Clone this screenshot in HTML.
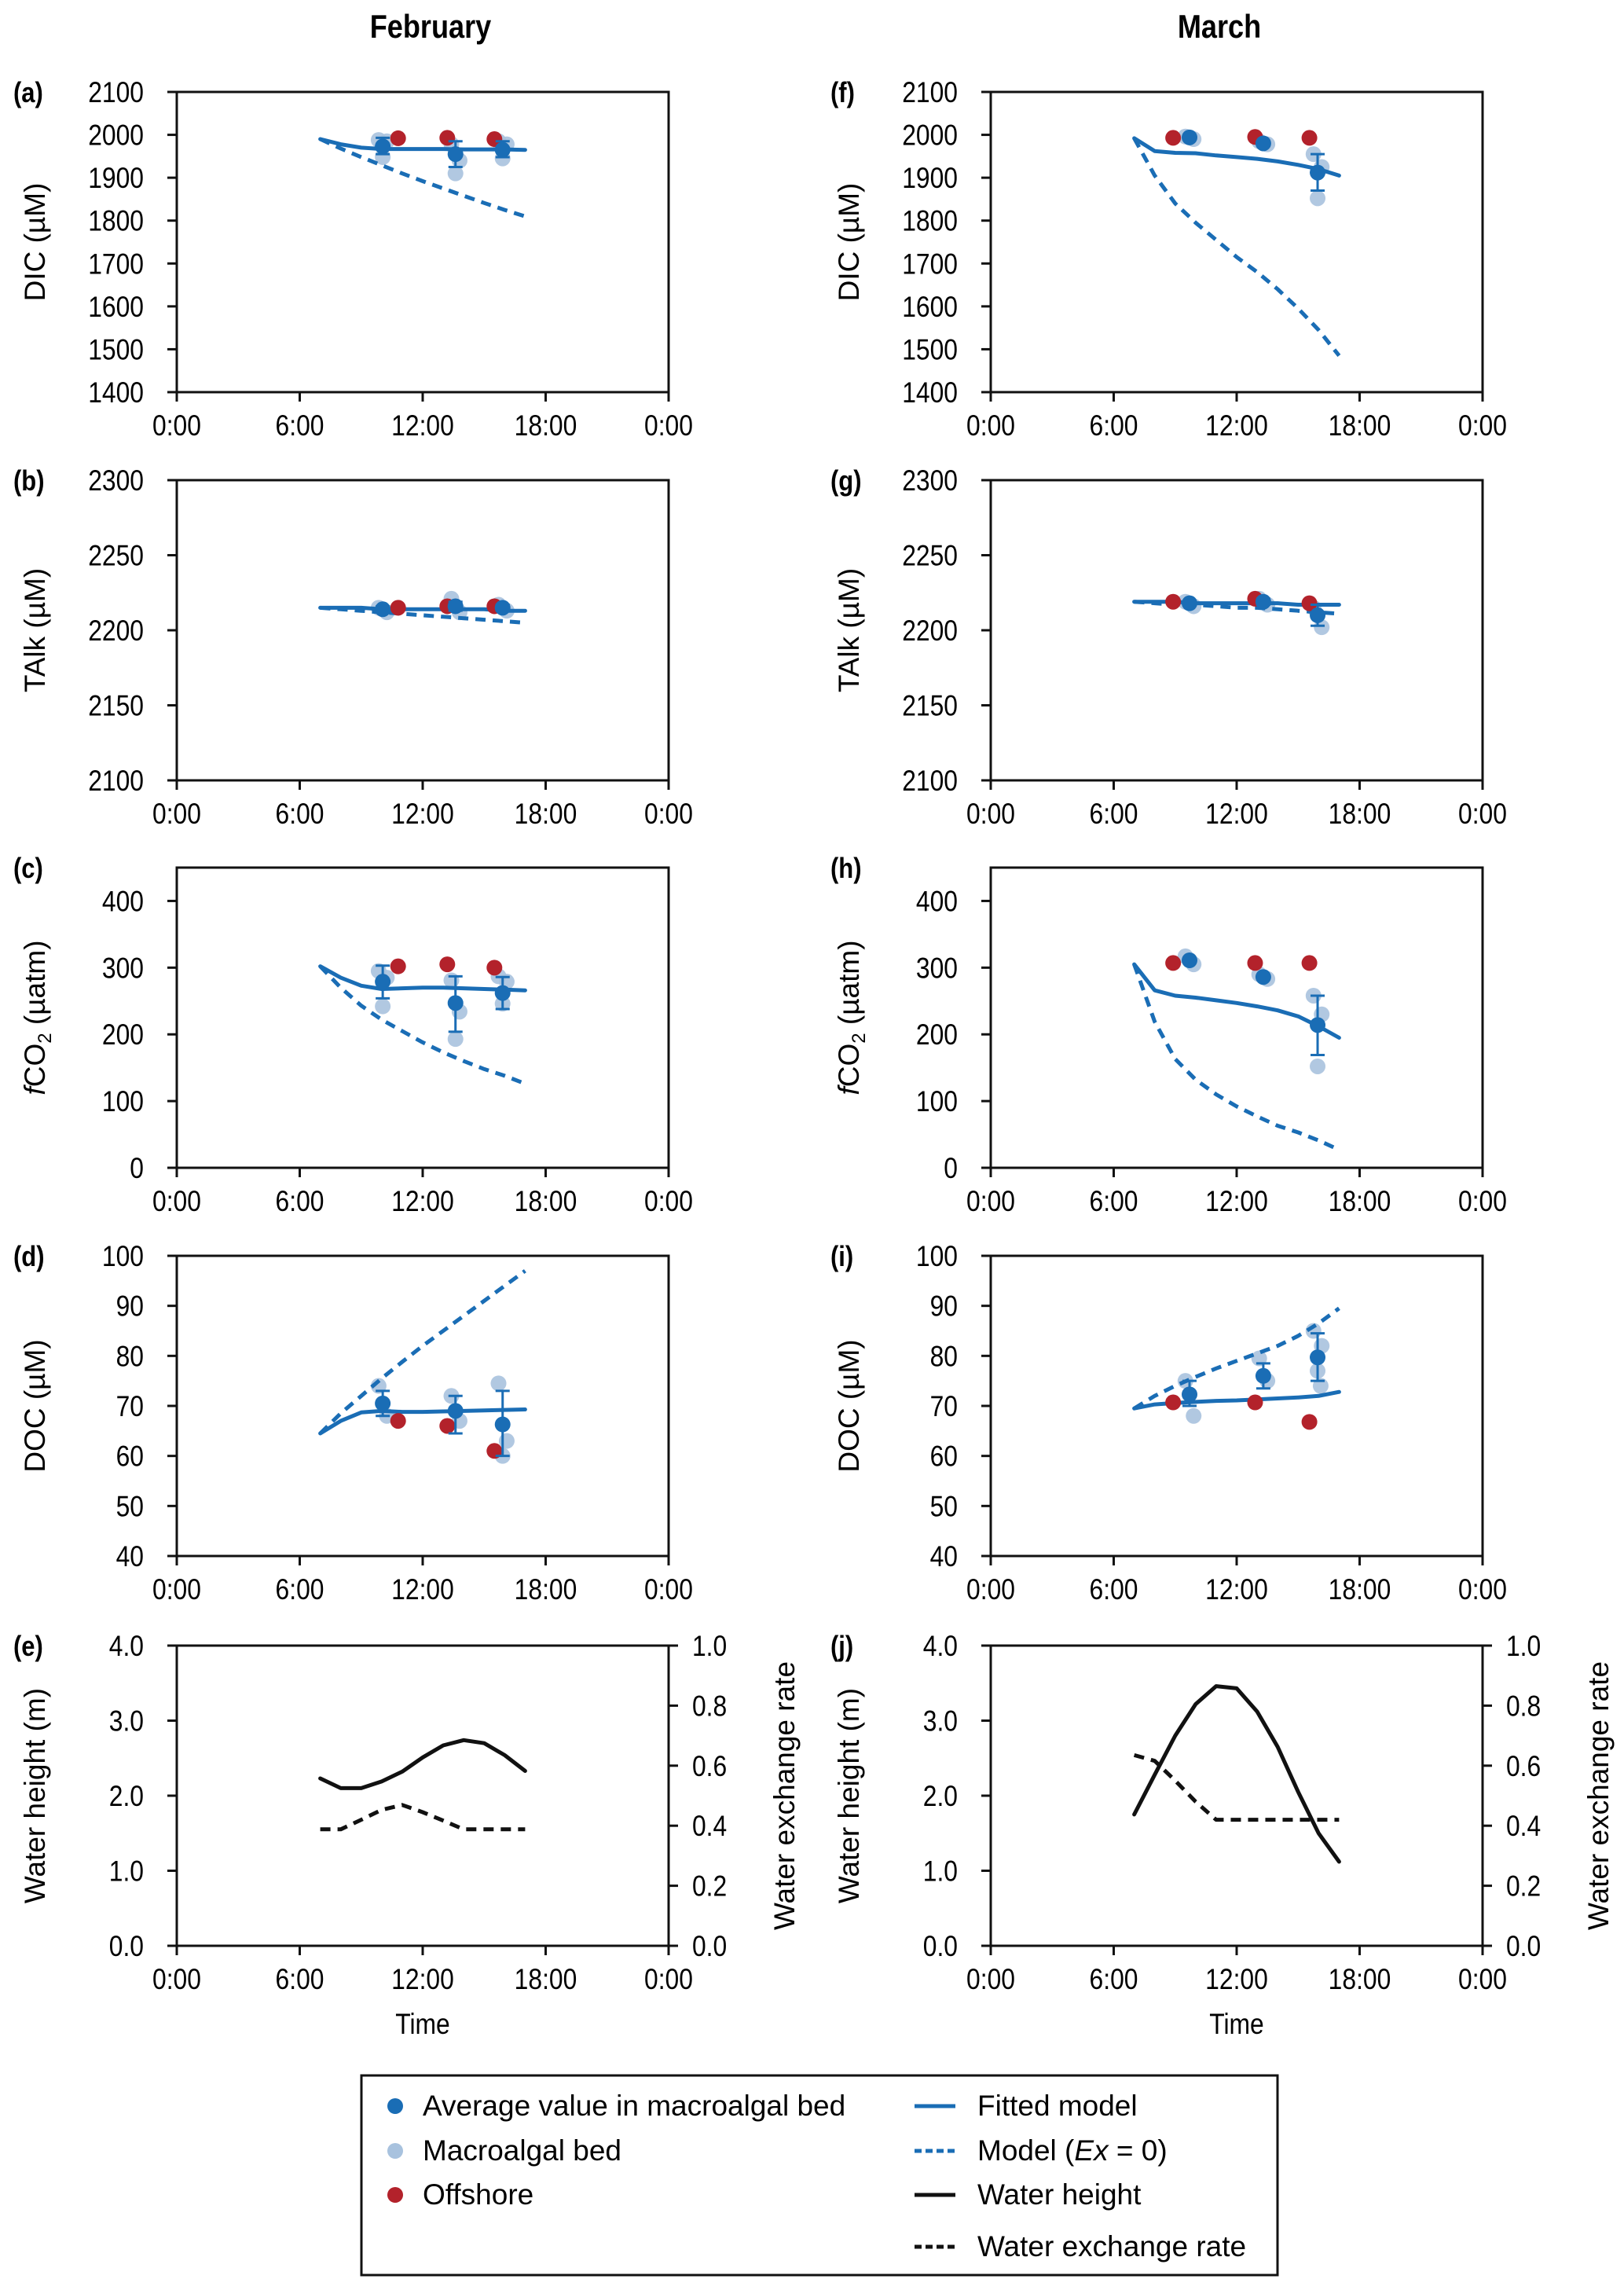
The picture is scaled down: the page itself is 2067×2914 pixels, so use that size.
<!DOCTYPE html>
<html><head><meta charset="utf-8">
<style>
html,body{margin:0;padding:0;background:#fff;}
svg{display:block;font-family:"Liberation Sans",Arial,sans-serif;}
</style></head>
<body>
<svg id="fig" width="2067" height="2914" viewBox="0 0 2067 2914" xmlns="http://www.w3.org/2000/svg">
<text class="nar" x="548" y="48" font-size="42" font-weight="bold" text-anchor="middle">February</text>
<text class="nar" x="1552" y="48" font-size="42" font-weight="bold" text-anchor="middle">March</text>
<g id="panels"></g>
<g>
<rect x="460" y="2641" width="1166" height="254" fill="#fff" stroke="#111" stroke-width="3"/>
<circle cx="503" cy="2680" r="10" fill="#1a6db5"/>
<text x="538" y="2692" font-size="37">Average value in macroalgal bed</text>
<circle cx="503" cy="2737" r="10" fill="#a8c2de"/>
<text x="538" y="2749" font-size="37">Macroalgal bed</text>
<circle cx="503" cy="2793" r="10" fill="#b3222b"/>
<text x="538" y="2805" font-size="37">Offshore</text>
<line x1="1164" y1="2680" x2="1216" y2="2680" stroke="#1a6db5" stroke-width="5"/>
<text x="1244" y="2692" font-size="37">Fitted model</text>
<line x1="1164" y1="2737" x2="1216" y2="2737" stroke="#1a6db5" stroke-width="5" stroke-dasharray="9,5"/>
<text x="1244" y="2749" font-size="37">Model (<tspan font-style="italic">Ex</tspan> = 0)</text>
<line x1="1164" y1="2793" x2="1216" y2="2793" stroke="#111" stroke-width="5"/>
<text x="1244" y="2805" font-size="37">Water height</text>
<line x1="1164" y1="2859" x2="1216" y2="2859" stroke="#111" stroke-width="5" stroke-dasharray="9,5"/>
<text x="1244" y="2871" font-size="37">Water exchange rate</text>
</g>
</svg>
<script>
const modelHours = [7,8,9,10,11,12,13,14,15,16,17];
const xTickLabels = ["0:00","6:00","12:00","18:00","0:00"];
const febAvgT = [10.05,13.6,15.9];
const febOffT = [10.8,13.2,15.5];
const marAvgT = [9.7,13.3,15.95];
const marOffT = [8.9,12.9,15.55];

// (a) Feb DIC
const aFit = [1990,1978,1970,1967,1967,1967,1967,1966,1966,1966,1965];
const aDash = [1990,1968,1948,1929,1910,1892,1875,1858,1841,1825,1810];
const aAvg = [1973,1955,1965];
const aHi = [1993,1985,1985];
const aLo = [1955,1925,1948];
const aOff = [1992,1993,1990];
const aLight = [[1988,1985,1948],[1978,1940,1910],[1985,1978,1945]];
// (f) Mar DIC
const fFit = [1992,1962,1958,1957,1952,1948,1944,1938,1930,1920,1905];
const fDash = [1992,1905,1840,1795,1755,1715,1680,1640,1595,1545,1485];
const fAvg = [1994,1980,1912];
const fHi = [1998,1985,1955];
const fLo = [1990,1975,1870];
const fOff = [1993,1995,1993];
const fLight = [[1996,1990],[1985,1978],[1955,1925,1852]];
// (b) Feb TAlk
const bFit = [2215,2215,2215,2214,2214,2214,2214,2214,2214,2213,2213];
const bDash = [2215,2214,2213,2212,2211,2210,2209,2208,2207,2206,2205];
const bAvg = [2214,2216,2215];
const bHi = [2216,2219,2217];
const bLo = [2212,2213,2213];
const bOff = [2215,2216,2216];
const bLight = [[2215,2212],[2221,2212],[2217,2213]];
// (g) Mar TAlk
const gFit = [2219,2219,2219,2218,2218,2218,2218,2218,2217,2217,2217];
const gDash = [2219,2218,2217,2217,2216,2215,2215,2214,2213,2212,2211];
const gAvg = [2218,2219,2210];
const gHi = [2219,2221,2217];
const gLo = [2217,2217,2203];
const gOff = [2219,2221,2218];
const gLight = [[2219,2216],[2221,2217],[2215,2202]];
// (c) Feb fCO2
const cFit = [302,285,273,268,269,270,270,269,268,267,266];
const cDash = [302,270,243,222,205,188,173,160,148,138,126];
const cAvg = [279,247,262];
const cHi = [303,287,286];
const cLo = [254,204,238];
const cOff = [302,305,300];
const cLight = [[295,285,242],[281,234,193],[287,279,246]];
// (h) Mar fCO2
const hFit = [305,266,258,255,251,247,242,236,227,212,195];
const hDash = [305,219,163,132,110,92,77,63,53,41,27];
const hAvg = [311,286,214];
const hHi = [313,288,258];
const hLo = [309,284,169];
const hOff = [307,307,307];
const hLight = [[317,305],[290,283],[258,230,152]];
// (d) Feb DOC
const dFit = [64.5,67,68.7,69,68.8,68.8,68.9,69,69.1,69.2,69.3];
const dDash = [64.5,68.5,72,75.5,78.8,82,85,88,91,94,97];
const dAvg = [70.5,69,66.3];
const dHi = [73,72,73];
const dLo = [68,64.5,60];
const dOff = [67,66,61];
const dLight = [[74,68],[72,67],[74.5,63,60]];
// (i) Mar DOC
const iFit = [69.5,70.3,70.6,70.8,71,71.1,71.3,71.5,71.7,72,72.8];
const iDash = [69.5,72,74,75.8,77.5,79,80.5,82,84,86.5,89.5];
const iAvg = [72.3,76,79.7];
const iHi = [75,78.5,84.5];
const iLo = [70,73.5,75];
const iOff = [70.7,70.7,66.8];
const iLight = [[75,68],[79.5,75],[85,82,77,74]];
// (e)/(j) water
const eHeight = [2.23,2.10,2.10,2.19,2.32,2.51,2.67,2.74,2.70,2.54,2.33];
const eExchange = [0.388,0.388,0.42,0.453,0.469,0.445,0.417,0.388,0.388,0.388,0.388];
const jHeight = [1.75,2.28,2.8,3.22,3.46,3.43,3.12,2.65,2.05,1.5,1.12];
const jExchange = [0.635,0.616,0.55,0.48,0.42,0.42,0.42,0.42,0.42,0.42,0.42];

const NS="http://www.w3.org/2000/svg";
const root=document.getElementById('panels');
const BLUE="#1a6db5", LIGHT="#a8c2de", RED="#b3222b";
function mk(tag,attrs,parent){const e=document.createElementNS(NS,tag);for(const k in attrs)e.setAttribute(k,attrs[k]);(parent||root).appendChild(e);return e;}
const colX=[225,1261], W=626;
const rowTop=[117,611,1104,1598,2094], H=382;

function panel(col,row,letter,ymin,ymax,ticks,fmt,title,titleHtml){
  const g=mk('g',{});
  
  
  const x0=colX[col], y0=rowTop[row];
  const sx=t=>x0+t/24*W;
  const sy=v=>y0+H-(v-ymin)/(ymax-ymin)*H;
  const fr=mk('path',{d:`M${x0},${y0+H} V${y0} H${x0+W} V${y0+H} Z`,fill:'none',stroke:'#111','stroke-width':3},g);
  
  
  ticks.forEach(v=>{
    const y=sy(v);
    mk('line',{x1:x0-12,x2:x0,y1:y,y2:y,stroke:'#111','stroke-width':3},g);
    const t=mk('text',{class:'nar',x:x0-42,y:y+13,'font-size':37,'text-anchor':'end'},g);
    
    
    t.textContent=fmt(v);
  });
  xTickLabels.forEach((lab,i)=>{
    const x=sx(i*6);
    mk('line',{x1:x,x2:x,y1:y0+H,y2:y0+H+12,stroke:'#111','stroke-width':3},g);
    const t=mk('text',{class:'nar',x:x,y:y0+H+55,'font-size':37,'text-anchor':'middle'},g);
    
    
    t.textContent=lab;
  });
  const lb=mk('text',{class:'nar',x:col?1057:17,y:y0+13,'font-size':36,'font-weight':'bold'},g);
  
  
  lb.textContent='('+letter+')';
  const tx=col?1093:57, ty=y0+H/2;
  const yt=mk('text',{x:tx,y:ty,'font-size':37,'text-anchor':'middle',transform:`rotate(-90 ${tx} ${ty})`},g);
  
  
  if(titleHtml) yt.innerHTML=titleHtml; else yt.textContent=title;
  return {g,sx,sy,x0,y0};
}
function line(p,vals,color,dash,name,sy){
  sy=sy||p.sy;
  const d=modelHours.map((t,i)=>(i?'L':'M')+p.sx(t).toFixed(1)+','+sy(vals[i]).toFixed(1)).join(' ');
  const e=mk('path',{d,fill:'none',stroke:color,'stroke-width':5,'stroke-linejoin':'round','stroke-linecap':dash?'butt':'round'},p.g);
  if(dash)e.setAttribute('stroke-dasharray',dash);
  
  
}
function chemPanel(col,row,letter,ymin,ymax,ticks,title,titleHtml,fit,dash,avg,hi,lo,off,light,avgT,offT){
  const p=panel(col,row,letter,ymin,ymax,ticks,v=>String(v),title,titleHtml);
  const offs=[-0.2,0.2,0,0.15];
  light.forEach((grp,gi)=>grp.forEach((v,k)=>{
    const c=mk('circle',{cx:p.sx(avgT[gi]+offs[k%4]),cy:p.sy(v),r:10,fill:LIGHT,'fill-opacity':0.9},p.g);
    
    
  }));
  line(p,dash,BLUE,'13,9','model-ex0-line');
  line(p,fit,BLUE,null,'fitted-model-line');
  off.forEach((v,i)=>{
    const c=mk('circle',{cx:p.sx(offT[i]),cy:p.sy(v),r:10,fill:RED},p.g);
    
    
  });
  avg.forEach((v,i)=>{
    const x=p.sx(avgT[i]);
    const e=mk('path',{d:`M${x},${p.sy(hi[i])} V${p.sy(lo[i])} M${x-9},${p.sy(hi[i])} h18 M${x-9},${p.sy(lo[i])} h18`,stroke:BLUE,'stroke-width':3,fill:'none'},p.g);
    
    
    const c=mk('circle',{cx:x,cy:p.sy(v),r:10,fill:BLUE},p.g);
    
    
  });
}
const dicT=[1400,1500,1600,1700,1800,1900,2000,2100];
const taT=[2100,2150,2200,2250,2300];
const fcT=[0,100,200,300,400];
const docT=[40,50,60,70,80,90,100];
const fco2Title='<tspan font-style="italic">f</tspan>CO<tspan font-size="24" dy="8">2</tspan><tspan dy="-8"> (µatm)</tspan>';
chemPanel(0,0,'a',1400,2100,dicT,'DIC (µM)',null,aFit,aDash,aAvg,aHi,aLo,aOff,aLight,febAvgT,febOffT);
chemPanel(1,0,'f',1400,2100,dicT,'DIC (µM)',null,fFit,fDash,fAvg,fHi,fLo,fOff,fLight,marAvgT,marOffT);
chemPanel(0,1,'b',2100,2300,taT,'TAlk (µM)',null,bFit,bDash,bAvg,bHi,bLo,bOff,bLight,febAvgT,febOffT);
chemPanel(1,1,'g',2100,2300,taT,'TAlk (µM)',null,gFit,gDash,gAvg,gHi,gLo,gOff,gLight,marAvgT,marOffT);
chemPanel(0,2,'c',0,450,fcT,'',fco2Title,cFit,cDash,cAvg,cHi,cLo,cOff,cLight,febAvgT,febOffT);
chemPanel(1,2,'h',0,450,fcT,'',fco2Title,hFit,hDash,hAvg,hHi,hLo,hOff,hLight,marAvgT,marOffT);
chemPanel(0,3,'d',40,100,docT,'DOC (µM)',null,dFit,dDash,dAvg,dHi,dLo,dOff,dLight,febAvgT,febOffT);
chemPanel(1,3,'i',40,100,docT,'DOC (µM)',null,iFit,iDash,iAvg,iHi,iLo,iOff,iLight,marAvgT,marOffT);

function waterPanel(col,letter,height,exch){
  const p=panel(col,4,letter,0,4,[0,1,2,3,4],v=>v.toFixed(1),'Water height (m)');
  const xr=p.x0+W;
  const sy2=v=>p.y0+H-v*H;
  [0,0.2,0.4,0.6,0.8,1.0].forEach(v=>{
    const y=sy2(v);
    mk('line',{x1:xr,x2:xr+12,y1:y,y2:y,stroke:'#111','stroke-width':3},p.g);
    const t=mk('text',{class:'nar',x:xr+30,y:y+13,'font-size':37},p.g);
    
    
    t.textContent=v.toFixed(1);
  });
  const tx=xr+160, ty=p.y0+H/2;
  const rt=mk('text',{x:tx,y:ty,'font-size':37,'text-anchor':'middle',transform:`rotate(-90 ${tx} ${ty})`},p.g);
  
  
  rt.textContent='Water exchange rate';
  const tt=mk('text',{class:'nar',x:p.x0+W/2,y:p.y0+H+112,'font-size':37,'text-anchor':'middle'},p.g);
  
  
  tt.textContent='Time';
  line(p,height,'#111',null,'water-height-line');
  line(p,exch,'#111','13,9','water-exchange-line',sy2);
}
waterPanel(0,'e',eHeight,eExchange);
waterPanel(1,'j',jHeight,jExchange);

// narrow numeric/label fonts horizontally (reference uses a condensed face for these)
document.querySelectorAll('#fig text.nar').forEach(t=>{
  const x=t.getAttribute('x'), y=t.getAttribute('y');
  const tr=t.getAttribute('transform')||'';
  t.setAttribute('transform',`${tr} translate(${x} ${y}) scale(0.86 1) translate(${-x} ${-y})`);
});
</script>
</body></html>
